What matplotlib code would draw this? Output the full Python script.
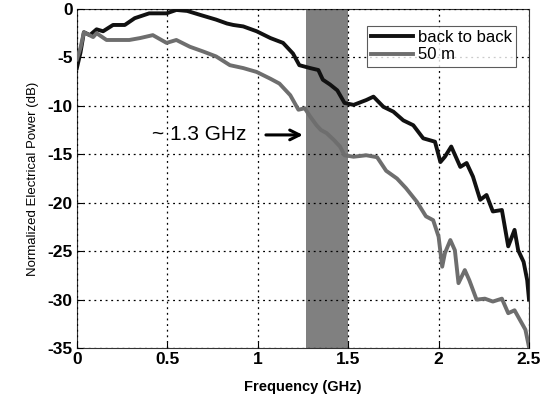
import matplotlib
matplotlib.use('Agg')
import matplotlib.pyplot as plt
import numpy as np

plt.rcParams['font.family'] = 'Liberation Sans'
plt.rcParams['axes.unicode_minus'] = False

# back to back (frequency GHz, power dB)
f_b2b = [0.0, 0.02, 0.039, 0.072, 0.109, 0.145, 0.2, 0.265, 0.32, 0.40, 0.496, 0.55, 0.61,
         0.68, 0.77, 0.83, 0.865, 0.92, 0.994, 1.07, 1.14, 1.195, 1.23, 1.29, 1.335,
         1.36, 1.40, 1.44, 1.48, 1.53, 1.60, 1.64, 1.695, 1.75, 1.805, 1.86, 1.915,
         1.98, 2.01, 2.035, 2.07, 2.12, 2.155, 2.19, 2.23, 2.265, 2.30, 2.35, 2.385,
         2.42, 2.44, 2.47, 2.49, 2.50]
p_b2b = [-6.1, -4.5, -2.4, -2.7, -2.1, -2.3, -1.65, -1.65, -0.95, -0.45, -0.45, -0.1, -0.2,
         -0.6, -1.1, -1.5, -1.65, -1.8, -2.3, -3.0, -3.5, -4.6, -5.8, -6.1, -6.3,
         -7.3, -7.8, -8.4, -9.7, -9.9, -9.4, -9.05, -10.1, -10.6, -11.5, -12.0, -13.35,
         -13.7, -15.8, -15.25, -14.2, -16.3, -15.9, -17.3, -19.7, -19.2, -20.9, -20.75, -24.5,
         -22.8, -24.9, -26.1, -28.0, -30.0]

# 50 m fibre
f_50m = [0.0, 0.02, 0.039, 0.09, 0.109, 0.164, 0.29, 0.35, 0.42, 0.496, 0.55, 0.625, 0.70,
         0.77, 0.846, 0.92, 0.994, 1.07, 1.12, 1.18, 1.225, 1.26, 1.29, 1.325, 1.35,
         1.38, 1.42, 1.455, 1.48, 1.53, 1.60, 1.66, 1.71, 1.77, 1.82, 1.88, 1.93,
         1.97, 2.0, 2.02, 2.035, 2.065, 2.09, 2.11, 2.145, 2.17, 2.21, 2.256, 2.30,
         2.35, 2.385, 2.42, 2.45, 2.48, 2.50]
p_50m = [-5.2, -4.0, -2.4, -2.9, -2.5, -3.2, -3.2, -3.0, -2.7, -3.5, -3.2, -3.9, -4.4,
         -4.9, -5.8, -6.1, -6.5, -7.2, -7.7, -8.9, -10.4, -10.25, -11.1, -12.0, -12.5,
         -12.8, -13.5, -14.2, -15.1, -15.25, -15.1, -15.3, -16.7, -17.5, -18.5, -19.9, -21.4,
         -21.8, -23.5, -26.6, -25.2, -23.85, -24.9, -28.3, -26.95, -28.0, -30.0, -29.9, -30.2,
         -29.9, -31.4, -31.1, -32.1, -33.1, -34.9]

band = (1.265, 1.5)
xticks = [0, 0.5, 1, 1.5, 2, 2.5]
xticklabels = ['0', '0.5', '1', '1.5', '2', '2.5']
yticks = [0, -5, -10, -15, -20, -25, -30, -35]

fig = plt.figure(figsize=(5.49, 4.01), dpi=100)
ax = fig.add_axes([0.140, 0.132, 0.8236, 0.8456])

ax.axvspan(band[0], band[1], color='#808080', zorder=1, lw=0)
ax.plot(f_b2b, p_b2b, color='#111111', lw=2.8, label='back to back', zorder=3)
ax.plot(f_50m, p_50m, color='#6e6e6e', lw=2.8, label='50 m', zorder=3)

ax.set_xlim(0, 2.5)
ax.set_ylim(-35, 0)
ax.set_xticks(xticks)
ax.set_xticklabels(xticklabels)
ax.set_yticks(yticks)
ax.grid(True, color='black', linestyle=(0, (1.5, 3)), lw=0.9, zorder=2)
ax.set_axisbelow(False)
for lab in ax.get_xticklabels() + ax.get_yticklabels():
    lab.set_fontweight('bold')
    lab.set_fontsize(12.5)
ax.tick_params(direction='in', length=4, pad=3)
for s in ax.spines.values():
    s.set_color('#333333')

ax.set_xlabel('Frequency (GHz)', fontsize=10.5, fontweight='bold', labelpad=9)
ax.set_ylabel('Normalized Electrical Power (dB)', fontsize=9.5, labelpad=6)

ax.annotate('', xy=(band[0], -13.0), xytext=(1.03, -13.0),
            arrowprops=dict(arrowstyle='->,head_length=0.7,head_width=0.35',
                            color='black', lw=2.2), zorder=4)
ax.text(0.94, -13.0, '~ 1.3 GHz', fontsize=15, ha='right', va='center', zorder=4)

leg = ax.legend(loc='upper right', bbox_to_anchor=(0.99, 0.975), fontsize=12, frameon=True,
                fancybox=False, edgecolor='#333333', handlelength=2.5, borderpad=0.25,
                labelspacing=0.15, handletextpad=0.3)
leg.get_frame().set_linewidth(0.8)

fig.savefig('out.png', dpi=100)
